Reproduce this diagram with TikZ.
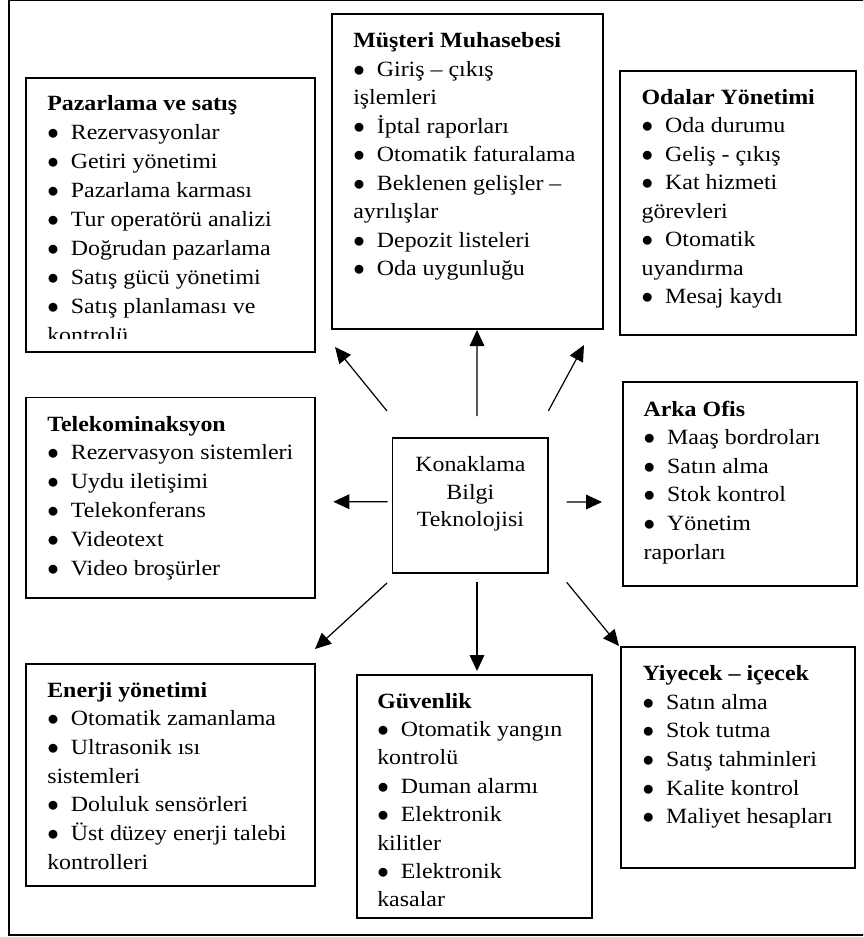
\documentclass[tikz,border=0pt]{standalone}
\usepackage{fontspec}
\setmainfont[FakeStretch=1.1]{Liberation Serif}
\usetikzlibrary{arrows.meta, fit}

\newcommand{\itm}{\makebox[17.7pt][l]{$\bullet$}}
% name, x, first baseline, line step, lines
\newcommand{\boxlines}[5]{%
  \foreach \t [count=\i from 0] in {#5}
    \node[txt] (#1-\i) at ({#2},{#3+#4*\i}) {\t};}

\begin{document}
\begin{tikzpicture}[x=0.75pt, y=-0.75pt, >={Triangle[length=12pt, width=11pt]},
  box/.style={draw, line width=1.4pt, inner sep=0pt, outer sep=0pt},
  txt/.style={anchor=base west, inner sep=0pt, font=\fontsize{16.3}{20}\selectfont},
  ctr/.style={anchor=base, inner sep=0pt, font=\fontsize{16.3}{20}\selectfont},
  arr/.style={->, line width=0.9pt}]
  \clip (0,0) rectangle (863,937);
  \draw[line width=1.2pt] (9,0.6) rectangle (880,935);

  % Boxes
  \node[box, fit={(392.5,438.3) (548.3,573)}] (kbt) {};
  \node[box, fit={(26,78) (315,352)}] (ps) {};
  \node[box, fit={(332,14) (603,329)}] (mm) {};
  \node[box, fit={(620,71) (856,335)}] (oy) {};
  \node[box, fit={(26,397.5) (315,598)}] (tk) {};
  \node[box, fit={(622.7,382.3) (857,585.7)}] (ao) {};
  \node[box, fit={(26,663.7) (315,886.3)}] (ey) {};
  \node[box, fit={(356.7,675.3) (591.7,918)}] (gv) {};
  \node[box, fit={(620.7,647) (855,867.7)}] (yi) {};

  % Texts
  \foreach \t [count=\i from 0] in {Konaklama, Bilgi, Teknolojisi}
    \node[ctr] (kbt-\i) at ({470.4},{471.7+27.3*\i}) {\t};
  \begin{scope}
    \clip (26,78) rectangle (315,339);
    \boxlines{ps}{47}{111}{28.9}{{\bfseries Pazarlama ve satış}, \itm Rezervasyonlar,
      \itm Getiri yönetimi, \itm Pazarlama karması, \itm Tur operatörü analizi,
      \itm Doğrudan pazarlama, \itm Satış gücü yönetimi, \itm Satış planlaması ve, kontrolü}
  \end{scope}
  \boxlines{mm}{353}{47.7}{28.5}{{\bfseries Müşteri Muhasebesi}, \itm Giriş – çıkış, işlemleri,
    \itm İptal raporları, \itm Otomatik faturalama, \itm Beklenen gelişler –, ayrılışlar,
    \itm Depozit listeleri, \itm Oda uygunluğu}
  \boxlines{oy}{641.3}{104.3}{28.5}{{\bfseries Odalar Yönetimi}, \itm Oda durumu,
    \itm Geliş - çıkış, \itm Kat hizmeti, görevleri, \itm Otomatik, uyandırma, \itm Mesaj kaydı}
  \boxlines{tk}{47}{431}{28.8}{{\bfseries Telekominaksyon}, \itm Rezervasyon sistemleri,
    \itm Uydu iletişimi, \itm Telekonferans, \itm Videotext, \itm Video broşürler}
  \boxlines{ao}{643.3}{416}{28.6}{{\bfseries Arka Ofis}, \itm Maaş bordroları, \itm Satın alma,
    \itm Stok kontrol, \itm Yönetim, raporları}
  \boxlines{ey}{47}{697}{28.7}{{\bfseries Enerji yönetimi}, \itm Otomatik zamanlama,
    \itm Ultrasonik ısı, sistemleri, \itm Doluluk sensörleri, \itm Üst düzey enerji talebi, kontrolleri}
  \boxlines{gv}{377}{708}{28.4}{{\bfseries Güvenlik}, \itm Otomatik yangın, kontrolü,
    \itm Duman alarmı, \itm Elektronik, kilitler, \itm Elektronik, kasalar}
  \boxlines{yi}{642.3}{680.3}{28.7}{{\bfseries Yiyecek – içecek}, \itm Satın alma, \itm Stok tutma,
    \itm Satış tahminleri, \itm Kalite kontrol, \itm Maliyet hesapları}

  % Arrows
  \draw[arr] ([shift={(-5.5,-27.3)}]kbt.north west) -- ([shift={(20,-5)}]ps.south east);
  \draw[arr] ([shift={(6.6,-22.3)}]kbt.north) -- ([shift={(9.5,1)}]mm.south);
  \draw[arr] ([shift={(0,-27.3)}]kbt.north east) -- ([shift={(-36,10)}]oy.south west);
  \draw[arr] ([shift={(-4.8,-4)}]kbt.west) -- ([shift={(18.3,4)}]tk.east);
  \draw[arr] ([shift={(18.4,-3.6)}]kbt.east) -- ([shift={(-20.7,18)}]ao.west);
  \draw[arr] ([shift={(-5.5,10)}]kbt.south west) -- ([shift={(0,-14.7)}]ey.north east);
  \draw[arr] ([shift={(6.6,9.3)}]kbt.south) -- ([shift={(2.8,-4.3)}]gv.north);
  \draw[arr] ([shift={(18.4,9.3)}]kbt.south east) -- ([shift={(-1.7,-1)}]yi.north west);
\end{tikzpicture}
\end{document}
